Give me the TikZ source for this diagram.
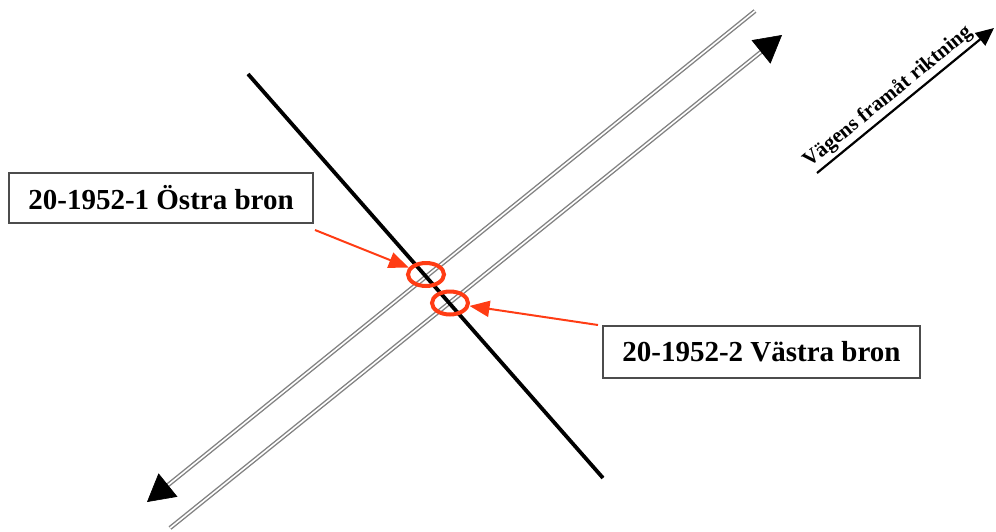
\documentclass[tikz,border=0pt]{standalone}
\usepackage{fontspec}
\setmainfont{Liberation Serif}
\usetikzlibrary{arrows.meta,calc,shapes.geometric}
\definecolor{markred}{RGB}{255,60,20}
\definecolor{roadgray}{RGB}{130,130,130}
\begin{document}
\begin{tikzpicture}[x=0.5pt,y=-0.5pt,
  road/.style={draw=roadgray,line width=0.7pt,double=white,double distance=0.8pt},
  roadhead/.style={line width=0.3pt,-{Triangle[length=13.5pt,width=15pt]}},
  crossing/.style={line width=1.9pt,black},
  bridgemark/.style={ellipse,draw=markred,line width=2pt,inner sep=0pt},
  redarrow/.style={draw=markred,line width=1pt,-{Triangle[length=10pt,width=8pt]}},
  textbox/.style={draw=gray!60!black,line width=0.8pt,fill=white,font=\fontsize{14.5}{17}\selectfont\bfseries,inner sep=0pt},
  dirlabel/.style={font=\fontsize{10.5}{12}\selectfont\bfseries}]
\useasboundingbox (0,0) rectangle (996,531);
% road lines
\coordinate (r1a) at (147,502);
\coordinate (r1b) at (755,11);
\coordinate (r2a) at (170,528);
\coordinate (r2b) at (782,35);
\draw[road] ($(r1a)!12pt!(r1b)$) -- (r1b);
\draw[roadhead] ($(r1a)!11pt!(r1b)$) -- (r1a);
\draw[road] (r2a) -- ($(r2b)!12pt!(r2a)$);
\draw[roadhead] ($(r2b)!11pt!(r2a)$) -- (r2b);
% crossing line
\coordinate (c1) at (248,74);
\coordinate (c2) at (603,478);
\draw[crossing] (c1) -- (c2);
% bridge marks
\node[bridgemark,minimum width=18pt,minimum height=11.5pt] (e1) at (426,274.5) {};
\node[bridgemark,minimum width=18pt,minimum height=11.5pt] (e2) at (450,303) {};
% labels
\node[textbox,minimum width=152pt,minimum height=25pt] (b1) at (161,198) {20-1952-1 Östra bron};
\node[textbox,minimum width=158.5pt,minimum height=26pt] (b2) at (761.5,352) {20-1952-2 Västra bron};
\coordinate (s1) at (315,230);
\coordinate (s2) at (598,325);
\draw[redarrow] (s1) -- (e1);
\draw[redarrow] (s2) -- (e2);
% direction arrow
\coordinate (d1) at (817,173);
\coordinate (d2) at (994,28);
\draw[line width=1.1pt,-{Triangle[length=9pt,width=8pt]}] (d1) -- (d2)
  node[dirlabel,pos=0.45,sloped,above,inner sep=1.5pt] (dl) {Vägens framåt riktning};
\end{tikzpicture}
\end{document}
